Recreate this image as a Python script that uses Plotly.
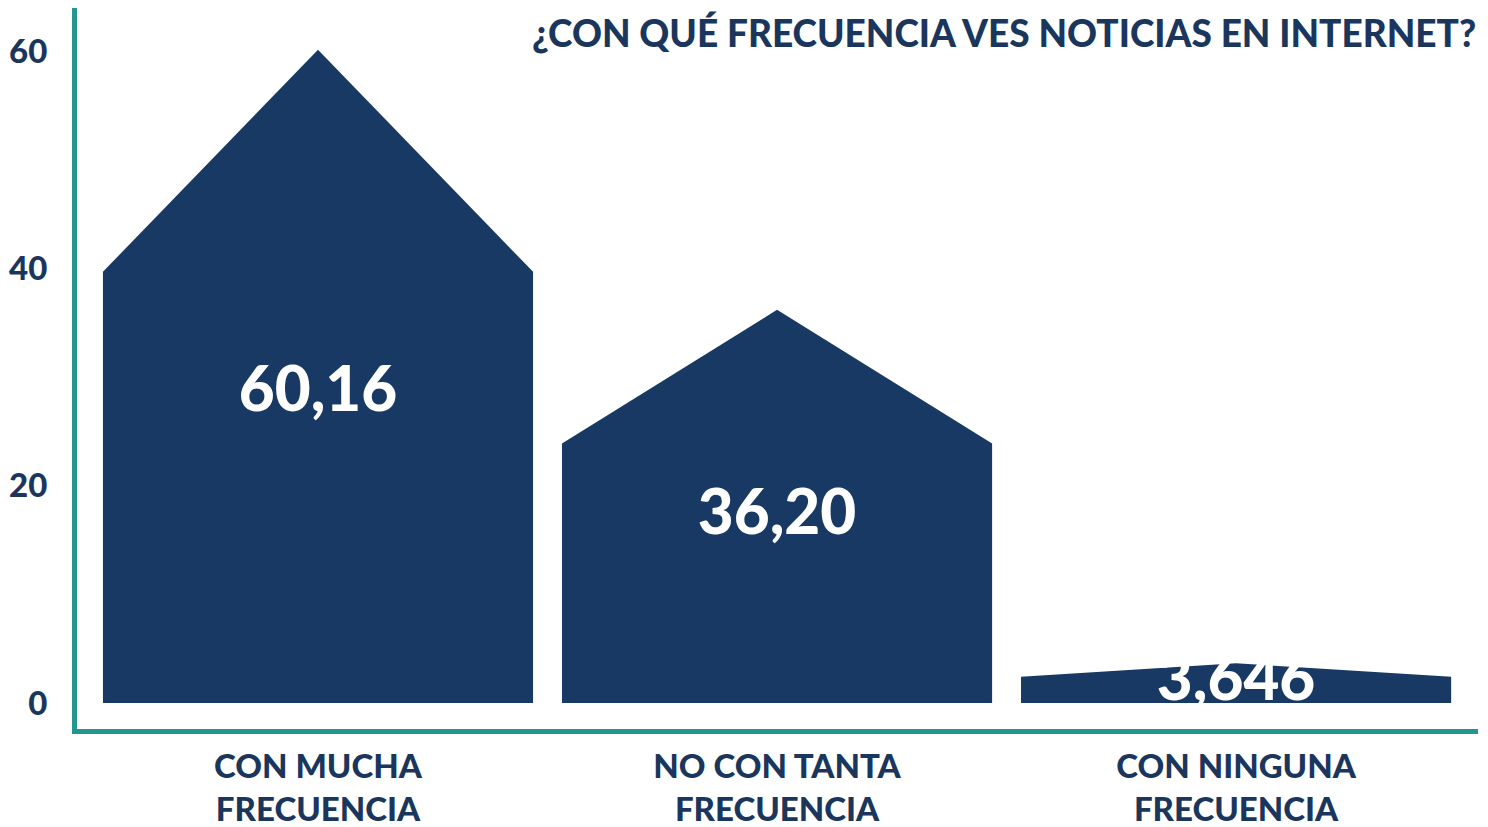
import plotly.graph_objects as go

categorias = ["CON MUCHA<br>FRECUENCIA", "NO CON TANTA<br>FRECUENCIA", "CON NINGUNA<br>FRECUENCIA"]
valores = [60.16, 36.20, 3.646]
etiquetas = ["60,16", "36,20", "3,646"]
ticks_y = [0, 20, 40, 60]
titulo = "¿CON QUÉ FRECUENCIA VES NOTICIAS EN INTERNET?"

NAVY = "#173963"
TEXTO = "#1b365d"
TEAL = "#22968f"
FUENTE = "Lato"

ancho = 0.937   # ancho de la casita en unidades de categoria
hombro = 0.66   # altura de la pared respecto al valor

fig = go.Figure()

# casitas: pared rectangular + tejado hasta el valor
for i, v in enumerate(valores):
    xs = [i - ancho / 2, i - ancho / 2, i, i + ancho / 2, i + ancho / 2, i - ancho / 2]
    ys = [0, v * hombro, v, v * hombro, 0, 0]
    fig.add_trace(go.Scatter(
        x=xs, y=ys, mode="lines", fill="toself",
        fillcolor=NAVY, line=dict(width=0, color=NAVY),
        hoverinfo="skip", showlegend=False
    ))

# valores en blanco dentro de cada casita
fig.add_trace(go.Scatter(
    x=list(range(len(valores))),
    y=[v * 0.47 for v in valores],
    mode="text",
    text=etiquetas,
    textfont=dict(family=FUENTE, size=62, color="white", weight=900),
    cliponaxis=False,
    hoverinfo="skip", showlegend=False
))

fig.add_annotation(
    text=titulo, xref="paper", yref="paper",
    x=1.0, y=1.0, xanchor="right", yanchor="top",
    yshift=0, showarrow=False,
    font=dict(family=FUENTE, size=37, color=TEXTO, weight=900)
)

# la pagina deja 8px de margen en el body: figura algo menor que la ventana
fig.update_layout(
    width=1480, height=819, autosize=False,
    margin=dict(l=69, r=10, t=0, b=98),
    plot_bgcolor="white", paper_bgcolor="white",
    font=dict(family=FUENTE, color=TEXTO),
)

fig.update_xaxes(
    range=[-0.525, 2.527],
    tickvals=list(range(len(categorias))),
    ticktext=categorias,
    tickfont=dict(family=FUENTE, size=33, color=TEXTO, weight=900),
    showgrid=False, zeroline=False,
    showline=True, linecolor=TEAL, linewidth=5,
    ticks="", ticklabelstandoff=4, automargin=False,
)
fig.update_yaxes(
    range=[-2.4, 64.0],
    tickvals=ticks_y,
    tickfont=dict(family=FUENTE, size=33, color=TEXTO, weight=900),
    showgrid=False, zeroline=False,
    showline=True, linecolor=TEAL, linewidth=5,
    ticks="", ticklabelstandoff=18, automargin=False,
)

fig.write_html("out.html")
